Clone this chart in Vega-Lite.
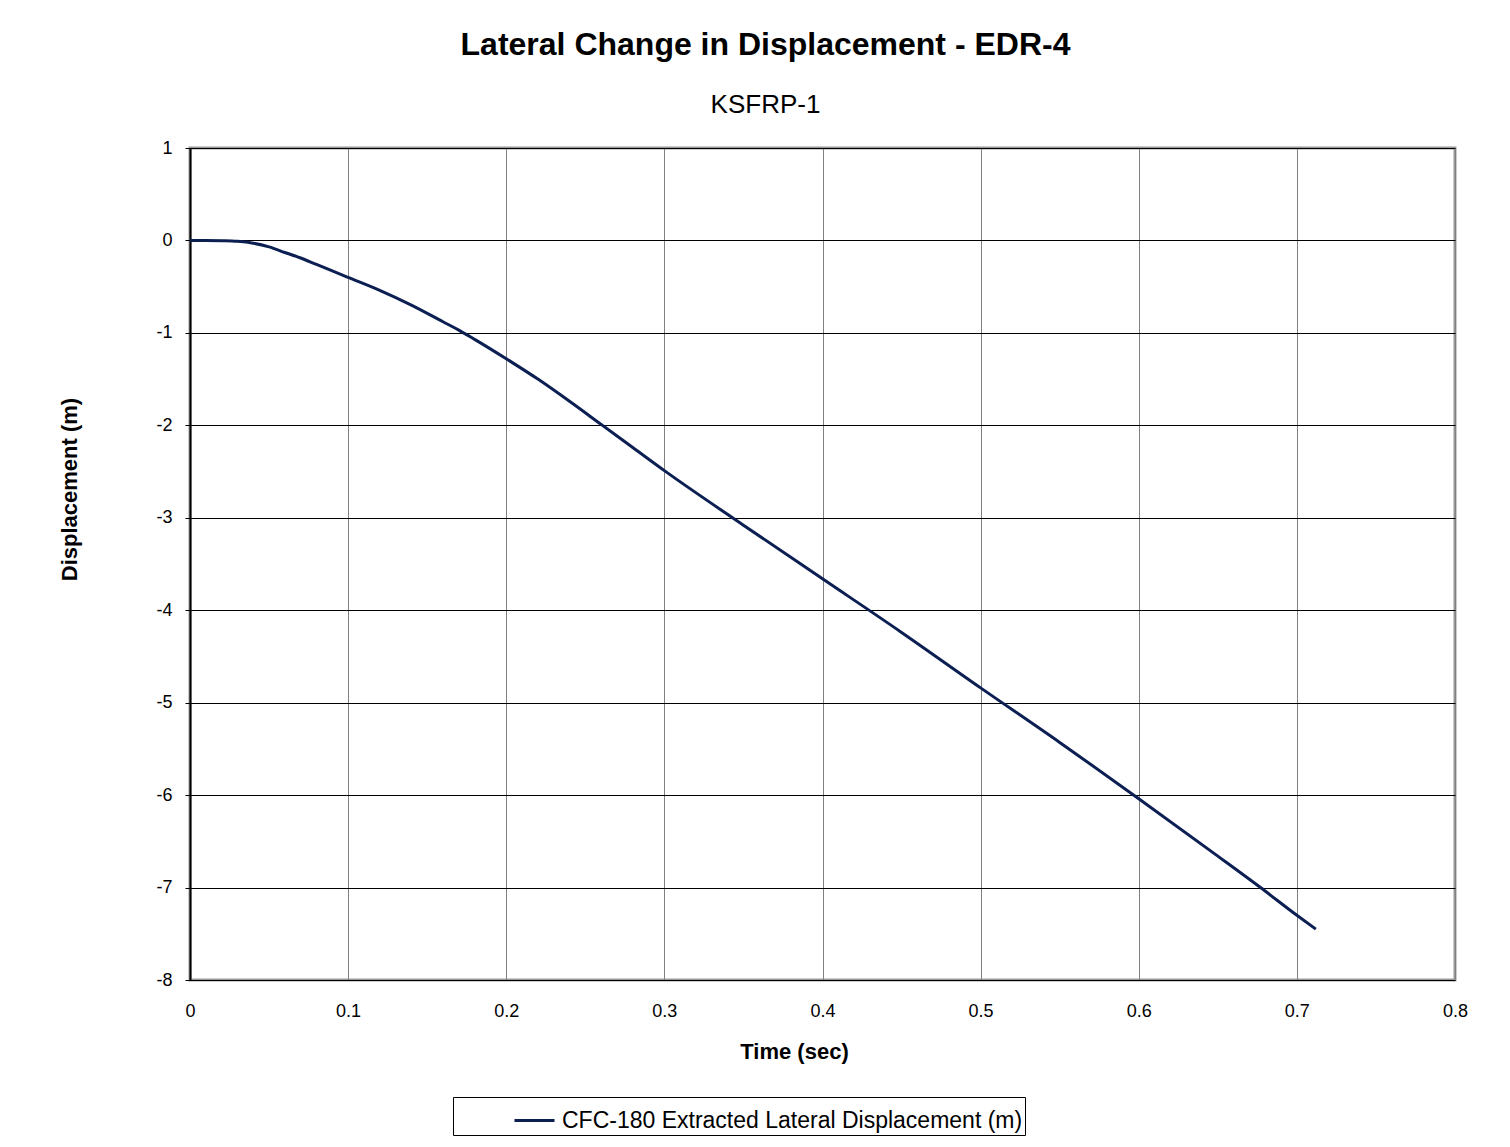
{
  "$schema": "https://vega.github.io/schema/vega-lite/v6.json",
  "autosize": {"type": "none"},
  "width": 1265,
  "height": 832,
  "padding": {"left": 190, "top": 148, "right": 55, "bottom": 167},
  "background": "white",
  "title": {
    "text": "Lateral Change in Displacement  - EDR-4",
    "subtitle": "KSFRP-1",
    "anchor": "middle",
    "frame": "group",
    "dx": -57,
    "offset": 20,
    "font": "Liberation Sans",
    "fontSize": 32,
    "fontWeight": "bold",
    "color": "black",
    "subtitleFont": "Liberation Sans",
    "subtitleFontSize": 26,
    "subtitleColor": "black",
    "subtitlePadding": 30
  },
  "data": {
    "values": [
      {"t": 0, "d": 0, "series": "CFC-180 Extracted Lateral Displacement (m)"},
      {"t": 0.01, "d": 0, "series": "CFC-180 Extracted Lateral Displacement (m)"},
      {"t": 0.02, "d": -0.003, "series": "CFC-180 Extracted Lateral Displacement (m)"},
      {"t": 0.03, "d": -0.01, "series": "CFC-180 Extracted Lateral Displacement (m)"},
      {"t": 0.04, "d": -0.03, "series": "CFC-180 Extracted Lateral Displacement (m)"},
      {"t": 0.05, "d": -0.07, "series": "CFC-180 Extracted Lateral Displacement (m)"},
      {"t": 0.06, "d": -0.13, "series": "CFC-180 Extracted Lateral Displacement (m)"},
      {"t": 0.07, "d": -0.19, "series": "CFC-180 Extracted Lateral Displacement (m)"},
      {"t": 0.08, "d": -0.26, "series": "CFC-180 Extracted Lateral Displacement (m)"},
      {"t": 0.09, "d": -0.33, "series": "CFC-180 Extracted Lateral Displacement (m)"},
      {"t": 0.10, "d": -0.40, "series": "CFC-180 Extracted Lateral Displacement (m)"},
      {"t": 0.12, "d": -0.54, "series": "CFC-180 Extracted Lateral Displacement (m)"},
      {"t": 0.14, "d": -0.70, "series": "CFC-180 Extracted Lateral Displacement (m)"},
      {"t": 0.16, "d": -0.88, "series": "CFC-180 Extracted Lateral Displacement (m)"},
      {"t": 0.17, "d": -0.97, "series": "CFC-180 Extracted Lateral Displacement (m)"},
      {"t": 0.18, "d": -1.07, "series": "CFC-180 Extracted Lateral Displacement (m)"},
      {"t": 0.20, "d": -1.28, "series": "CFC-180 Extracted Lateral Displacement (m)"},
      {"t": 0.22, "d": -1.50, "series": "CFC-180 Extracted Lateral Displacement (m)"},
      {"t": 0.24, "d": -1.74, "series": "CFC-180 Extracted Lateral Displacement (m)"},
      {"t": 0.26, "d": -1.99, "series": "CFC-180 Extracted Lateral Displacement (m)"},
      {"t": 0.28, "d": -2.24, "series": "CFC-180 Extracted Lateral Displacement (m)"},
      {"t": 0.30, "d": -2.49, "series": "CFC-180 Extracted Lateral Displacement (m)"},
      {"t": 0.35, "d": -3.08, "series": "CFC-180 Extracted Lateral Displacement (m)"},
      {"t": 0.40, "d": -3.66, "series": "CFC-180 Extracted Lateral Displacement (m)"},
      {"t": 0.45, "d": -4.24, "series": "CFC-180 Extracted Lateral Displacement (m)"},
      {"t": 0.50, "d": -4.84, "series": "CFC-180 Extracted Lateral Displacement (m)"},
      {"t": 0.55, "d": -5.43, "series": "CFC-180 Extracted Lateral Displacement (m)"},
      {"t": 0.60, "d": -6.04, "series": "CFC-180 Extracted Lateral Displacement (m)"},
      {"t": 0.65, "d": -6.66, "series": "CFC-180 Extracted Lateral Displacement (m)"},
      {"t": 0.677, "d": -7.00, "series": "CFC-180 Extracted Lateral Displacement (m)"},
      {"t": 0.70, "d": -7.30, "series": "CFC-180 Extracted Lateral Displacement (m)"},
      {"t": 0.712, "d": -7.45, "series": "CFC-180 Extracted Lateral Displacement (m)"}
    ]
  },
  "mark": {"type": "line", "strokeWidth": 3, "interpolate": "monotone"},
  "encoding": {
    "x": {
      "field": "t",
      "type": "quantitative",
      "scale": {"domain": [0, 0.8], "nice": false, "zero": false},
      "axis": {
        "title": "Time (sec)",
        "values": [0, 0.1, 0.2, 0.3, 0.4, 0.5, 0.6, 0.7, 0.8],
        "labelExpr": "datum.value == 0 ? '0' : format(datum.value, '.1f')",
        "domain": false,
        "ticks": false,
        "grid": true,
        "gridColor": "#808080",
        "gridWidth": 1,
        "gridOpacity": 1,
        "labelPadding": 22,
        "labelFont": "Liberation Sans",
        "labelFontSize": 18,
        "labelColor": "black",
        "labelFlush": false,
        "titleFont": "Liberation Sans",
        "titleFontSize": 22,
        "titleFontWeight": "bold",
        "titleColor": "black",
        "titleX": 604,
        "titleY": 78,
        "titleAlign": "center",
        "titleBaseline": "alphabetic"
      }
    },
    "y": {
      "field": "d",
      "type": "quantitative",
      "scale": {"domain": [-8, 1], "nice": false, "zero": false},
      "axis": {
        "title": "Displacement (m)",
        "values": [-8, -7, -6, -5, -4, -3, -2, -1, 0, 1],
        "labelExpr": "datum.value < 0 ? '-' + abs(datum.value) : '' + datum.value",
        "domain": true,
        "domainColor": "black",
        "domainWidth": 2,
        "ticks": true,
        "tickColor": "black",
        "tickSize": 5,
        "tickWidth": 1,
        "grid": true,
        "gridColor": "black",
        "gridWidth": 1,
        "gridOpacity": 1,
        "labelPadding": 13,
        "labelFont": "Liberation Sans",
        "labelFontSize": 18,
        "labelColor": "black",
        "labelFlush": false,
        "titleFont": "Liberation Sans",
        "titleFontSize": 22,
        "titleFontWeight": "bold",
        "titleColor": "black",
        "titleX": -114,
        "titleY": 341,
        "titleAngle": -90,
        "titleAlign": "center",
        "titleBaseline": "alphabetic"
      }
    },
    "color": {
      "field": "series",
      "type": "nominal",
      "scale": {"range": ["#0c1f52"]},
      "legend": {
        "title": null,
        "orient": "none",
        "legendX": 263,
        "legendY": 949,
        "strokeColor": "black",
        "fillColor": "white",
        "padding": 2,
        "symbolOffset": 58,
        "symbolType": "stroke",
        "symbolSize": 1600,
        "symbolStrokeWidth": 3,
        "labelOffset": 6,
        "labelFont": "Liberation Sans",
        "labelFontSize": 23,
        "labelColor": "black",
        "labelLimit": 1000
      }
    }
  },
  "config": {
    "view": {"stroke": "#999999", "strokeWidth": 3}
  }
}
